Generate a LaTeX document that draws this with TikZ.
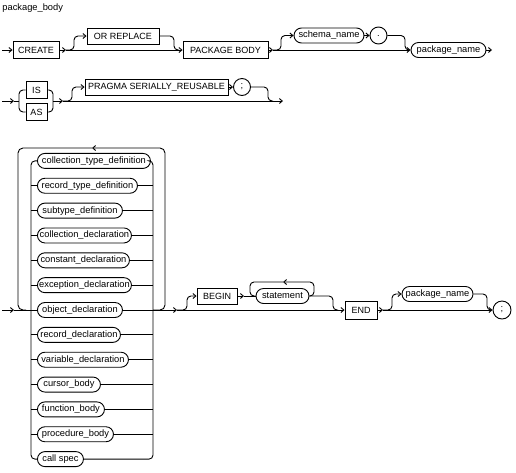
\documentclass[tikz,border=0pt]{standalone}
\usepackage{fontspec}
\setmainfont{Liberation Sans}
\usetikzlibrary{arrows.meta}
\begin{document}
\begin{tikzpicture}[x=1pt,y=-1pt, line width=0.9pt,
  arr/.style={-{Straight Barb[length=3pt,width=5pt]}},
  kw/.style={draw, rectangle, minimum height=17pt, inner sep=0pt, font=\fontsize{9}{11}\selectfont},
  nt/.style={draw, rectangle, rounded corners=7.5pt, minimum height=15pt, inner sep=0pt, font=\fontsize{9.3}{11}\selectfont},
  circ/.style={draw, circle, minimum size=17pt, inner sep=0pt, font=\fontsize{9.3}{11}\selectfont},
  rc/.style={rounded corners=4pt}]
\useasboundingbox (0,0) rectangle (516,472);
\node[anchor=west, inner sep=0pt, font=\fontsize{9.3}{11}\selectfont] (title) at (2,8) {package\_body};
% ---------- row 1
\node[kw, minimum width=46pt] (create) at (36,50) {CREATE};
\node[kw, minimum width=72pt, minimum height=16pt] (orrep) at (123,36) {OR REPLACE};
\node[kw, minimum width=85pt] (pkgbody) at (225.5,50) {PACKAGE BODY};
\node[nt, minimum width=70pt] (schema) at (329,35.5) {schema\_name};
\node[circ] (dot) at (378.5,35.5) {.};
\node[nt, minimum width=75pt] (pkgname1) at (448.5,50) {package\_name};
\coordinate (s1) at (2,50);
\coordinate (b1) at (66,50);
\coordinate (u1) at (74,36);
\coordinate (r1) at (174,50);
\coordinate (r1e) at (179,50);
\coordinate (b2) at (273,50);
\coordinate (u2) at (281,35.5);
\coordinate (r2) at (405,50);
\coordinate (r2e) at (409,50);
\coordinate (e1) at (492,50);
\draw[arr] (s1) -- (create);
\draw[arr] (create) -- (b1);
\draw[arr] (b1) -- (pkgbody);
\draw[arr,rc] (b1) -| (u1) -- (orrep);
\draw[rc] (orrep) -| (r1) -- (r1e);
\draw[arr] (pkgbody) -- (b2);
\draw[arr] (b2) -- (pkgname1);
\draw[arr,rc] (b2) -| (u2) -- (schema);
\draw[arr] (schema) -- (dot);
\draw[rc] (dot) -| (r2) -- (r2e);
\draw[arr] (pkgname1) -- (e1);
% ---------- row 2
\node[kw, minimum width=21pt] (is) at (36.5,90) {IS};
\node[kw, minimum width=21pt] (as) at (36.5,112) {AS};
\node[kw, minimum width=143pt, minimum height=16pt] (pragma) at (156.5,87) {PRAGMA SERIALLY\_REUSABLE};
\node[circ] (semi1) at (242,87) {;};
\coordinate (s2) at (2,101);
\coordinate (b3) at (14,101);
\coordinate (lb2) at (19,101);
\coordinate (rb2) at (53,101);
\coordinate (b4) at (63,101);
\coordinate (u4) at (72,87);
\coordinate (r4) at (268,101);
\coordinate (r4e) at (273,101);
\coordinate (e2) at (283,101);
\draw[arr] (s2) -- (b3);
\draw (b3) -- (lb2);
\draw[rc] (is) -| (lb2) |- (as);
\draw[rc] (is) -| (rb2) |- (as);
\draw[arr] (rb2) -- (b4);
\draw[arr] (b4) -- (e2);
\draw[arr,rc] (b4) -| (u4) -- (pragma);
\draw[arr] (pragma) -- (semi1);
\draw[rc] (semi1) -| (r4) -- (r4e);
% ---------- row 3
\coordinate (lb) at (31,310);
\coordinate (rb) at (153,310);
\foreach \t/\w [count=\i] in {collection\_type\_definition/113, record\_type\_definition/100, subtype\_definition/85, collection\_declaration/94, constant\_declaration/92, exception\_declaration/94, object\_declaration/85, record\_declaration/83, variable\_declaration/91, cursor\_body/63, function\_body/67, procedure\_body/76, call spec/46}
  \node[nt, minimum width=\w pt, anchor=west] (it\i) at (37,{310+24.85*(\i-7)}) {\t};
\foreach \i in {2,...,12} {
  \draw (it\i.west -| lb) -- (it\i.west);
  \draw (it\i.east) -- (it\i.east -| rb);
}
\draw[rc] (it1.west) -| (it13.west -| lb) -- (it13.west);
\draw[rc] (it1.east) -| (it13.east -| rb) -- (it13.east);
\coordinate (s3) at (2,310);
\coordinate (b5) at (14,310);
\draw[arr] (s3) -- (b5);
\draw (b5) -- (lb);
\coordinate (olr) at (165,148);
\coordinate (oll) at (18,148);
\coordinate (lt) at (92,148);
\coordinate (ojn) at (26,310);
\draw[arr,rounded corners=5pt] (rb) -| (olr) -- (lt);
\draw[rounded corners=5pt] (lt) -- (oll) |- (ojn);
\coordinate (b6) at (177,310);
\draw[arr] (rb) -- (b6);
\node[kw, minimum width=40pt, minimum height=16pt] (begin) at (217,296) {BEGIN};
\node[nt, minimum width=53pt] (stmt) at (282.5,296) {statement};
\node[kw, minimum width=32pt, minimum height=18pt] (endk) at (361,310) {END};
\node[nt, minimum width=71pt] (pkgname2) at (437.5,294) {package\_name};
\node[circ, minimum size=18pt] (semi2) at (502,310) {;};
\coordinate (u6) at (187,296);
\coordinate (c7) at (244,296);
\coordinate (slt) at (250,282);
\coordinate (srt) at (314,282);
\coordinate (sm) at (283,282);
\coordinate (r7) at (333,310);
\coordinate (r7e) at (338,310);
\coordinate (b8) at (383,310);
\coordinate (u8) at (392,294);
\coordinate (r8) at (487,310);
\coordinate (r8e) at (491,310);
\draw[arr] (b6) -- (endk);
\draw[arr,rc] (b6) -| (u6) -- (begin);
\draw[arr] (begin) -- (c7);
\draw (c7) -- (stmt);
\draw[arr,rc] (stmt.east) -| (srt) -- (sm);
\draw[rc] (sm) -- (slt) |- (stmt.west);
\draw[rc] (stmt) -| (r7) -- (r7e);
\draw[arr] (endk) -- (b8);
\draw[arr] (b8) -- (semi2);
\draw[arr,rc] (b8) -| (u8) -- (pkgname2);
\draw[rc] (pkgname2) -| (r8) -- (r8e);
\end{tikzpicture}
\end{document}
